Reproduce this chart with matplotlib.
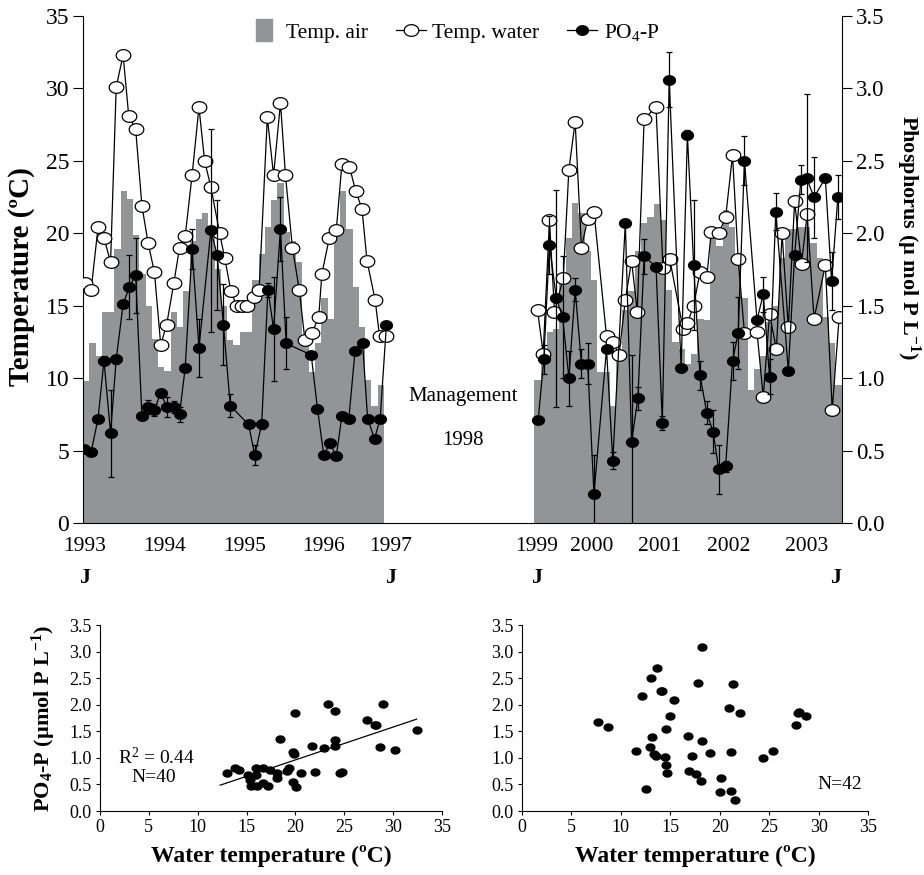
import numpy as np
import matplotlib
matplotlib.use('Agg')
import matplotlib.pyplot as plt
import matplotlib.transforms as mtransforms
from matplotlib.path import Path
from matplotlib.lines import Line2D
from matplotlib.ticker import FormatStrFormatter

plt.rcParams['font.family'] = ['Liberation Serif', 'DejaVu Serif']
plt.rcParams['mathtext.fontset'] = 'custom'
plt.rcParams['mathtext.rm'] = 'Liberation Serif'
plt.rcParams['mathtext.bf'] = 'Liberation Serif:bold'
plt.rcParams['mathtext.it'] = 'Liberation Serif:italic'

# time axis: months since January 1993
# monthly air temperature (ºC), Jan 1993 - Dec 1996 and Jan 1999 - Jan 2003
air_left_month = np.arange(0, 48)
air_left = [9.8, 12.4, 11.5, 14.6, 14.6, 18.9, 22.9, 22.4, 19.9, 17.2, 15.0, 12.7,
            10.8, 10.5, 14.6, 13.5, 16.0, 19.5, 21.0, 21.4, 20.2, 17.5, 15.0, 12.6,
            12.3, 13.2, 13.2, 16.8, 18.6, 20.4, 22.3, 23.5, 20.1, 19.5, 18.0, 12.4,
            10.4, 12.4, 15.5, 14.1, 20.1, 22.9, 20.3, 16.3, 13.5, 9.9, 8.1, 9.5]
air_right_month = np.arange(72, 121)
air_right = [9.9, 11.5, 13.2, 13.4, 16.5, 19.7, 22.1, 21.4, 18.8, 16.8, 10.4, 10.4,
             8.1, 11.8, 14.7, 16.0, 18.8, 20.7, 21.1, 22.0, 20.9, 16.1, 12.5, 12.0,
             11.0, 11.7, 14.1, 14.0, 20.2, 19.1, 21.6, 20.4, 18.3, 15.5, 9.2, 10.6,
             11.5, 13.9, 15.0, 18.3, 20.3, 20.3, 20.4, 20.4, 19.3, 18.3, 14.2, 12.4,
             9.5]

# water temperature (ºC)
wt_left_month = [0.27, 1.3, 2.4, 3.35, 4.4, 5.3, 6.4, 7.3, 8.4, 9.4, 10.4, 11.4, 12.4,
                 13.35, 14.5, 15.4, 16.3, 17.4, 18.5, 19.4, 20.4, 21.8, 22.6, 23.6, 24.5,
                 25.4, 26.2, 27.2, 28.1, 29.4, 30.4, 31.5, 32.3, 33.4, 34.5, 35.4, 36.5,
                 37.6, 38.1, 39.3, 40.4, 41.3, 42.5, 43.5, 44.5, 45.3, 46.6, 47.3, 48.3]
wt_left = [16.6, 16.1, 20.4, 19.7, 18.0, 30.1, 32.3, 28.1, 27.2, 21.9, 19.3, 17.3, 12.3,
           13.7, 16.6, 19.0, 19.8, 24.0, 28.7, 25.0, 23.2, 20.0, 18.3, 16.0, 15.0,
           15.0, 15.0, 15.6, 16.1, 28.0, 24.0, 29.0, 24.0, 19.0, 16.1, 12.6, 13.1,
           14.2, 17.2, 19.7, 20.2, 24.8, 24.6, 22.9, 21.7, 18.1, 15.4, 12.9, 12.9]
wt_right_month = [72.5, 73.4, 74.4, 75.2, 76.6, 77.5, 78.5, 79.5, 80.5, 81.5, 83.5, 84.5,
                  85.5, 86.5, 87.5, 88.4, 89.5, 91.4, 92.5, 93.6, 95.7, 96.4, 97.4, 98.4,
                  99.5, 100.2, 101.4, 102.5, 103.6, 104.5, 105.5, 107.5, 108.5, 109.5,
                  110.6, 111.5, 112.5, 113.5, 114.6, 115.5, 116.6, 118.4, 119.5, 120.6]
wt_right = [14.7, 11.7, 20.9, 14.6, 16.9, 24.4, 27.7, 19.0, 21.0, 21.5, 12.9, 12.5,
            11.6, 15.4, 18.1, 14.6, 27.9, 28.7, 17.6, 18.2, 13.4, 13.8, 15.0, 17.3,
            17.0, 20.1, 20.0, 21.1, 25.4, 18.2, 13.1, 13.2, 8.7, 14.4,
            12.0, 20.0, 13.5, 22.2, 17.9, 21.3, 14.1, 17.8, 7.8, 14.2]

# PO4-P (umol P/L) with error
po4_left_month = [0.2, 1.3, 2.4, 3.35, 4.4, 5.3, 6.4, 7.4, 8.4, 9.4, 10.4, 11.4, 12.4,
                  13.35, 14.5, 15.4, 16.3, 17.4, 18.5, 20.4, 21.4, 22.4, 23.5, 26.4,
                  27.4, 28.5, 29.5, 30.4, 31.5, 32.4, 36.4, 37.4, 38.4, 39.4, 40.4,
                  41.3, 42.4, 43.4, 44.6, 45.4, 46.5, 47.4, 48.4]
po4_left = [0.51, 0.49, 0.72, 1.12, 0.62, 1.13, 1.51, 1.63, 1.71, 0.74, 0.80, 0.78, 0.90,
            0.80, 0.80, 0.75, 1.07, 1.89, 1.21, 2.02, 1.85, 1.37, 0.81, 0.68,
            0.47, 0.68, 1.61, 1.34, 2.03, 1.24, 1.16, 0.79, 0.47, 0.55, 0.46,
            0.74, 0.72, 1.19, 1.24, 0.72, 0.58, 0.72, 1.37]
po4_left_err = [0, 0, 0, 0.03, 0.30, 0.03, 0, 0.22, 0.26, 0, 0.05, 0.04, 0,
                0.07, 0.04, 0.05, 0, 0.14, 0.20, 0.70, 0.38, 0.28, 0.08, 0,
                0.07, 0.03, 0.05, 0.36, 0.22, 0.18, 0, 0, 0, 0, 0,
                0, 0, 0, 0, 0, 0, 0, 0]
po4_right_month = [72.6, 73.5, 74.4, 75.5, 76.5, 77.5, 78.5, 79.5, 80.5, 81.5, 83.5, 84.5,
                   86.5, 87.5, 88.5, 89.5, 91.4, 92.4, 93.5, 95.4, 96.4, 97.4, 98.4, 99.5,
                   100.5, 101.4, 102.5, 103.6, 104.5, 105.5, 107.5, 108.5, 109.5, 110.5,
                   112.5, 113.5, 114.5, 115.4, 116.6, 118.4, 119.4, 120.4]
po4_right = [0.71, 1.13, 1.92, 1.55, 1.42, 1.00, 1.61, 1.10, 1.10, 0.20, 1.20, 0.43,
             2.07, 0.56, 0.86, 1.84, 1.77, 0.69, 3.06, 1.07, 2.68, 1.78, 1.02, 0.76,
             0.63, 0.37, 0.39, 1.12, 1.31, 2.50, 1.40, 1.58, 1.01, 2.15,
             1.05, 1.85, 2.37, 2.38, 2.25, 2.38, 1.67, 2.25]
po4_right_err = [0, 0.10, 0.20, 0.75, 0.42, 0.19, 0.08, 0.10, 0.14, 0.27, 0, 0.06,
                 0, 0.60, 0.08, 0.12, 0, 0.05, 0.19, 0, 0.03, 0.45, 0.10, 0.08,
                 0.15, 0.17, 0.04, 0.13, 0.25, 0.17, 0, 0.12, 0.12, 0.13,
                 0, 0, 0.10, 0.58, 0.28, 0, 0.20, 0.15]

# tick labels of the time axis
year_labels = ['1993', '1994', '1995', '1996', '1997', '1999', '2000', '2001', '2002', '2003']
year_pos = [0.2, 13.0, 25.8, 38.3, 49.0, 72.4, 81.2, 91.9, 102.9, 115.4]
j_pos = [0.2, 49.0, 72.4, 120.1]

# scatter: water temperature vs PO4-P, before (1993-96) and after (1999-2003) management
sc1_t = [13.0, 13.8, 14.2, 15.1, 15.4, 15.5, 16.0, 16.0, 16.1, 16.7, 16.7, 17.2, 17.4,
         18.1, 18.1, 18.4, 19.1, 19.3, 19.8, 19.8, 19.9, 20.0, 20.1, 20.6, 21.7, 22.0,
         22.9, 23.3, 24.1, 24.1, 24.1, 24.6, 24.8, 27.3, 28.1, 28.2, 28.7, 29.0, 30.2, 32.4]
sc1_p = [0.71, 0.81, 0.77, 0.68, 0.59, 0.47, 0.68, 0.81, 0.48, 0.81, 0.52, 0.47, 0.77,
         0.71, 0.62, 1.36, 0.76, 0.81, 0.55, 1.12, 1.07, 1.84, 0.45, 0.71, 1.23, 0.73,
         1.18, 2.01, 1.89, 1.34, 1.23, 0.71, 0.73, 1.72, 1.62, 1.61, 1.20, 2.02, 1.14, 1.52]
sc2_t = [7.7, 8.75, 11.5, 12.1, 12.5, 12.9, 13.1, 13.2, 13.4, 13.6, 13.7, 14.1, 14.2, 14.5,
         14.6, 14.6, 14.7, 15.0, 15.4, 16.8, 16.9, 17.2, 17.6, 17.8, 18.2, 18.2, 18.1, 19.0,
         20.0, 20.1, 20.9, 21.1, 21.1, 21.3, 21.5, 22.1, 24.4, 25.4, 27.7, 27.9, 28.0, 28.7]
sc2_p = [1.67, 1.58, 1.13, 2.16, 0.42, 1.20, 2.51, 1.39, 1.08, 1.04, 2.69, 2.25, 2.25, 1.02,
         1.55, 0.86, 0.72, 1.78, 2.08, 1.42, 0.75, 1.04, 0.70, 2.40, 1.32, 3.08, 0.57, 1.10,
         0.36, 0.63, 1.94, 1.11, 0.38, 2.39, 0.21, 1.85, 1.00, 1.13, 1.61, 1.85, 1.86, 1.78]

GRAY = '#939498'

# slightly flattened circle, as in the printed figure
t = np.linspace(0, 2 * np.pi, 60)
ell = Path(np.column_stack([np.cos(t), 0.8 * np.sin(t)]), closed=True)
rect = Path([(-0.34, -0.5), (0.34, -0.5), (0.34, 0.5), (-0.34, 0.5), (-0.34, -0.5)], closed=True)

fig = plt.figure(figsize=(9.24, 8.75), dpi=100)

# ---- top panel: time series ----
ax = fig.add_axes([0.0898, 0.4023, 0.8214, 0.5794])
ax.bar(air_left_month, air_left, width=1.0, align='edge', color=GRAY, linewidth=0, zorder=1)
ax.bar(air_right_month, air_right, width=1.0, align='edge', color=GRAY, linewidth=0, zorder=1)
for xs, ys in [(wt_left_month, wt_left), (wt_right_month, wt_right)]:
    ax.plot(xs, ys, color='k', lw=0.9, marker=ell, ms=10.5, mfc='white', mec='k',
            mew=0.9, zorder=3)
ax.set_xlim(0, 121.05)
ax.set_ylim(0, 35)
ax.set_yticks(np.arange(0, 36, 5))
ax.set_xticks(year_pos)
ax.set_xticklabels(year_labels)
ax.spines['top'].set_visible(False)
ax.spines['right'].set_visible(False)
ax.tick_params(axis='y', direction='out', length=7, width=0.8, labelsize=17, pad=3)
ax.tick_params(axis='x', length=0, labelsize=15.5, pad=10)

ax2 = ax.twinx()
for xs, ys, es in [(po4_left_month, po4_left, po4_left_err),
                   (po4_right_month, po4_right, po4_right_err)]:
    ax2.errorbar(xs, ys, yerr=es, color='k', lw=0.9, elinewidth=0.9, capsize=2.5,
                 capthick=0.9, marker=ell, ms=8.5, mfc='k', mec='k', zorder=4)
ax2.set_ylim(0, 3.5)
ax2.set_yticks(np.arange(0, 3.6, 0.5))
ax2.yaxis.set_major_formatter(FormatStrFormatter('%.1f'))
for s in ['top', 'left', 'bottom']:
    ax2.spines[s].set_visible(False)
ax2.tick_params(axis='y', direction='out', length=7, width=0.8, labelsize=16.5, pad=3)

trans = mtransforms.blended_transform_factory(ax.transData, ax.transAxes)
for xj in j_pos:
    ax.text(xj, -0.108, 'J', transform=trans, ha='center', va='center',
            fontsize=16, fontweight='bold')
ax.text(60.6, 8.7, 'Management', ha='center', va='center', fontsize=15)
ax.text(60.6, 5.7, '1998', ha='center', va='center', fontsize=15)

fig.text(22 / 924, 1 - 277 / 875, 'Temperature (ºC)', rotation=90, ha='center',
         va='center', fontsize=21, fontweight='bold')
fig.text(908 / 924, 1 - 238 / 875, r'Phosphorus (µ mol P L$^{\mathbf{-1}}$)', rotation=270,
         ha='center', va='center', fontsize=16, fontweight='bold')

h_air = Line2D([], [], ls='none', marker=rect, ms=16, mfc=GRAY, mec=GRAY)
h_water = Line2D([], [], color='k', lw=0.9, marker=ell, ms=10.5, mfc='white', mec='k', mew=0.9)
h_po4 = Line2D([], [], color='k', lw=0.9, marker=ell, ms=8.5, mfc='k', mec='k')
fig.legend([h_air, h_water, h_po4], ['Temp. air', 'Temp. water', r'PO$_4$-P'],
           loc='upper left', bbox_to_anchor=(249 / 924, 1 - 22 / 875), ncol=3,
           frameon=False, fontsize=15.5, handlelength=1.4, handletextpad=0.3,
           columnspacing=1.3, borderpad=0, borderaxespad=0, numpoints=1)

# ---- bottom panels: scatter ----
def style_scatter(a):
    a.set_xlim(0, 35)
    a.set_ylim(0, 3.5)
    a.set_xticks(np.arange(0, 36, 5))
    a.set_yticks(np.arange(0, 3.6, 0.5))
    a.yaxis.set_major_formatter(FormatStrFormatter('%.1f'))
    a.spines['top'].set_visible(False)
    a.spines['right'].set_visible(False)
    a.tick_params(direction='out', length=3, width=0.8, labelsize=13, pad=3)
    a.set_xlabel('Water temperature (ºC)', fontsize=17, fontweight='bold', labelpad=6)

axl = fig.add_axes([0.1082, 0.0731, 0.3701, 0.2126])
axl.plot(sc1_t, sc1_p, ls='none', marker=ell, ms=6.3, mfc='k', mec='k')
coef = np.polyfit(sc1_t, sc1_p, 1)
xx = np.array([min(sc1_t) - 0.7, max(sc1_t)])
axl.plot(xx, np.polyval(coef, xx), color='k', lw=0.9)
axl.text(5.8, 1.0, r'R$^2$ = 0.44', ha='center', va='center', fontsize=14)
axl.text(5.5, 0.64, 'N=40', ha='center', va='center', fontsize=14)
style_scatter(axl)
axl.set_ylabel(r'PO$_\mathbf{4}$-P (µmol P L$^{\mathbf{-1}}$)', fontsize=16,
               fontweight='bold', labelpad=8)

axr = fig.add_axes([0.5649, 0.0731, 0.3745, 0.2126])
axr.plot(sc2_t, sc2_p, ls='none', marker=ell, ms=6.3, mfc='k', mec='k')
axr.text(32.1, 0.49, 'N=42', ha='center', va='center', fontsize=14)
style_scatter(axr)

fig.savefig('out.png', dpi=100)
